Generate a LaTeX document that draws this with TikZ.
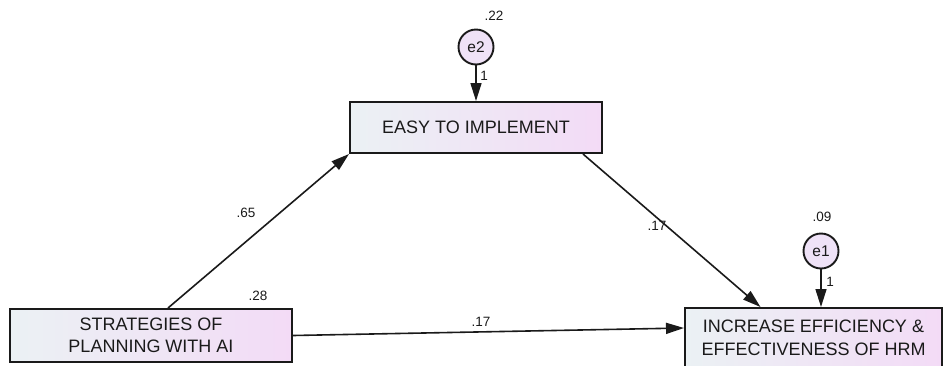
\documentclass[tikz,border=0pt]{standalone}
\usepackage{fontspec}
\setmainfont{Liberation Sans}
\usetikzlibrary{arrows.meta,calc}

\definecolor{boxL}{HTML}{EBF1F4}
\definecolor{boxR}{HTML}{F3DBF6}
\definecolor{errFill}{HTML}{EFE2F7}
\definecolor{ink}{HTML}{1A1A1A}

\tikzset{
  varbox/.style={draw=ink, line width=2pt, left color=boxL, right color=boxR,
    shading angle=90, text=ink, font=\fontsize{18}{22.5}\selectfont,
    align=center, inner sep=0pt},
  errnode/.style={circle, draw=ink, line width=1.9pt, fill=errFill, text=ink,
    minimum size=35pt, inner sep=0pt, font=\fontsize{15.5}{18}\selectfont},
  arr/.style={draw=ink, line width=1.6pt, -{Triangle[length=18pt,width=11pt]}},
  coef/.style={text=ink, font=\fontsize{13.5}{16}\selectfont, inner sep=0pt},
}

\begin{document}
\begin{tikzpicture}[x=1pt,y=-1pt]
  \useasboundingbox (0,0) rectangle (945,365);
  \clip (0,0) rectangle (945,365);

  % observed variables
  \node[varbox, minimum width=282pt, minimum height=53pt] (L) at (151,335.5)
    {STRATEGIES OF\\PLANNING WITH AI};
  \node[varbox, minimum width=252pt, minimum height=51pt] (T) at (476,127.5)
    {EASY TO IMPLEMENT};
  \node[varbox, minimum width=257pt, minimum height=60pt] (R) at (813.5,338)
    {INCREASE EFFICIENCY \&\\EFFECTIVENESS OF HRM};

  % error terms
  \node[errnode] (e2) at (476,47) {e2};
  \node[errnode] (e1) at (821,251) {e1};

  % paths
  \draw[arr] ([xshift=17pt]L.north) -- (T.south west);
  \draw[arr] ([xshift=107pt]T.south) -- ([xshift=-53pt]R.north);
  \draw[arr] (L.east) -- ([yshift=10pt]R.west);
  \draw[arr] (e2.south) -- (T.north);
  \draw[arr] (e1.south) -- (e1.south |- R.north);

  % estimates
  \node[coef] (c65) at (246,213) {.65};
  \node[coef] (c17a) at (657,226) {.17};
  \node[coef] (c17b) at (481,322) {.17};
  \node[coef] (c28) at (258,296) {.28};
  \node[coef] (c22) at (494,16) {.22};
  \node[coef] (c09) at (822,217) {.09};
  \node[coef] (w2) at (484,76) {1};
  \node[coef] (w1) at (830,282) {1};
\end{tikzpicture}
\end{document}
